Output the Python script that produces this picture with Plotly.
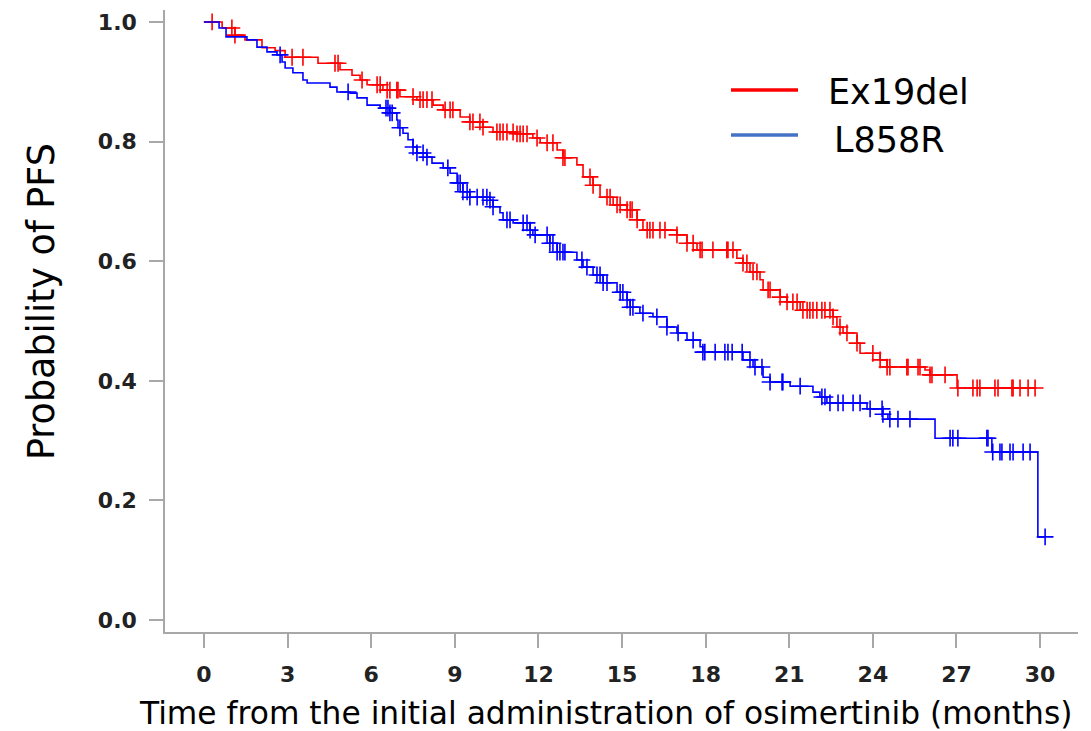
import numpy as np
import plotly.graph_objects as go

# ---- Data ----
# Ex19del: step times (months) and survival after each step
ex19_time = [0, 0.65, 1.11, 1.47, 2.08, 2.55, 2.91, 4.09, 4.88, 5.31, 5.60, 5.85,
             6.42, 7.03, 7.64, 8.22, 8.58, 9.19, 9.54, 10.01, 10.37, 11.23, 11.80,
             12.06, 12.67, 12.88, 13.38, 13.60, 13.96, 14.21, 14.68, 15.18, 15.54,
             15.75, 16.97, 17.33, 17.69, 19.12, 19.34, 19.59, 19.95, 20.06, 20.67,
             20.92, 21.39, 22.57, 22.71, 22.93, 23.43, 23.54, 24.26, 24.51, 25.87,
             26.05, 27.02]
ex19_surv = [1.000, 0.990, 0.978, 0.970, 0.957, 0.952, 0.941, 0.931, 0.920, 0.911,
             0.903, 0.895, 0.886, 0.875, 0.870, 0.861, 0.853, 0.841, 0.833, 0.824,
             0.816, 0.813, 0.806, 0.798, 0.786, 0.773, 0.761, 0.741, 0.727, 0.707,
             0.694, 0.686, 0.669, 0.652, 0.644, 0.630, 0.619, 0.605, 0.597, 0.582,
             0.569, 0.552, 0.540, 0.532, 0.518, 0.507, 0.490, 0.480, 0.463, 0.446,
             0.435, 0.423, 0.418, 0.410, 0.388]
ex19_censor = [0.29, 1.00, 1.11, 3.16, 3.55, 4.70, 4.81, 5.67, 6.21, 6.32, 6.57, 6.67,
               6.92, 6.96, 7.50, 7.75, 7.86, 8.00, 8.18, 8.65, 8.83, 8.93, 9.54, 9.65,
               9.90, 10.01, 10.51, 10.62, 10.73, 10.87, 11.09, 11.23, 11.34, 11.45,
               11.59, 11.95, 12.31, 12.52, 12.88, 12.95, 13.85, 13.96, 14.46, 14.57,
               14.82, 14.93, 15.18, 15.29, 15.36, 15.54, 15.90, 16.00, 16.11, 16.36,
               16.54, 16.97, 17.33, 17.55, 17.80, 17.87, 18.26, 18.76, 18.80, 18.98,
               19.34, 19.48, 19.70, 19.84, 20.24, 20.31, 20.67, 20.92, 21.13, 21.28,
               21.49, 21.64, 21.74, 21.85, 21.99, 22.17, 22.28, 22.46, 22.57, 22.82,
               23.07, 23.43, 24.00, 24.26, 24.51, 24.61, 25.22, 25.26, 25.62, 25.69,
               26.05, 26.12, 26.59, 27.05, 27.59, 27.74, 27.84, 28.38, 28.49, 28.99,
               29.03, 29.28, 29.57, 29.82]

# L858R
l858_time = [0, 0.54, 0.79, 1.54, 1.90, 2.26, 2.62, 2.80, 2.91, 3.19, 3.55, 3.70,
             4.52, 4.77, 5.24, 5.49, 5.85, 6.32, 6.67, 6.92, 6.96, 7.14, 7.32, 7.50,
             7.64, 8.00, 8.18, 8.58, 8.83, 9.08, 9.29, 9.54, 10.26, 10.37, 10.62,
             10.73, 11.09, 11.70, 11.80, 12.41, 12.67, 13.38, 13.60, 13.96, 14.32,
             14.82, 15.18, 15.29, 15.64, 16.11, 16.61, 16.97, 17.33, 17.80, 17.90,
             19.34, 19.70, 20.06, 20.31, 21.03, 21.85, 22.10, 22.35, 23.79, 24.36,
             24.54, 26.23, 28.27, 29.92]
l858_surv = [1.000, 0.990, 0.975, 0.970, 0.958, 0.950, 0.945, 0.933, 0.923, 0.915,
             0.903, 0.898, 0.891, 0.883, 0.881, 0.873, 0.861, 0.856, 0.848, 0.836,
             0.823, 0.814, 0.803, 0.791, 0.781, 0.774, 0.764, 0.756, 0.747, 0.731,
             0.716, 0.707, 0.702, 0.691, 0.681, 0.669, 0.664, 0.652, 0.644, 0.630,
             0.615, 0.602, 0.590, 0.577, 0.564, 0.548, 0.535, 0.523, 0.513, 0.507,
             0.490, 0.480, 0.468, 0.457, 0.448, 0.435, 0.423, 0.406, 0.398, 0.391,
             0.381, 0.373, 0.363, 0.353, 0.344, 0.336, 0.304, 0.281, 0.139]
l858_censor = [2.73, 5.17, 6.53, 6.60, 6.67, 6.75, 7.03, 7.50, 7.64, 7.86, 8.00, 8.75,
               9.11, 9.19, 9.29, 9.44, 9.54, 9.80, 10.01, 10.15, 10.26, 10.37, 10.87,
               10.98, 11.45, 11.59, 11.70, 11.88, 12.31, 12.41, 12.52, 12.67, 12.77,
               12.88, 12.95, 13.56, 13.74, 14.10, 14.21, 14.32, 14.46, 14.93, 15.03,
               15.18, 15.29, 15.39, 15.75, 16.25, 16.61, 17.01, 17.55, 17.90, 17.97,
               18.34, 18.69, 18.80, 18.95, 19.31, 19.59, 19.77, 20.02, 20.31, 20.74,
               20.77, 21.39, 22.17, 22.28, 22.46, 22.75, 22.93, 23.29, 23.54, 23.90,
               24.33, 24.36, 24.61, 24.90, 25.33, 26.77, 26.87, 27.05, 28.09, 28.13,
               28.30, 28.56, 28.63, 28.92, 29.03, 29.39, 29.64, 30.18]

x_ticks = [0, 3, 6, 9, 12, 15, 18, 21, 24, 27, 30]
y_ticks = [0.0, 0.2, 0.4, 0.6, 0.8, 1.0]

x_title = "Time from the initial administration of osimertinib (months)"
y_title = "Probability of PFS"

groups = [
    ("Ex19del", ex19_time, ex19_surv, ex19_censor, "#FF0000", "#FF0000"),
    ("L858R", l858_time, l858_surv, l858_censor, "#0000FF", "#4472C4"),
]


def surv_at(times, surv, t):
    idx = np.searchsorted(np.array(times), t, side="right") - 1
    return np.array(surv)[idx]


fig = go.Figure()
for name, tt, ss, cc, col, _ in groups:
    end = max(cc[-1], tt[-1])
    fig.add_trace(go.Scatter(
        x=list(tt) + [end], y=list(ss) + [ss[-1]],
        mode="lines", line=dict(color=col, width=1.6, shape="hv"),
        name=name, showlegend=False, hoverinfo="skip"))
    fig.add_trace(go.Scatter(
        x=cc, y=surv_at(tt, ss, np.array(cc)),
        mode="markers",
        marker=dict(symbol="cross-thin", size=12, color=col,
                    line=dict(color=col, width=1.6)),
        showlegend=False, hoverinfo="skip"))

# Plot-area box in page pixels
L, R, T, B = 165, 1078, 10, 632
def px(x):
    return (x - L) / (R - L)
def py(y):
    return (B - y) / (B - T)

# Legend drawn as in the reference (line samples + text)
legend_rows = [(90, 92, 826), (135, 140, 832)]
for (name, *_rest), (ly, ty, tx) in zip(groups, legend_rows):
    lcol = _rest[-1]
    fig.add_shape(type="line", xref="paper", yref="paper",
                  x0=px(731), x1=px(798), y0=py(ly), y1=py(ly),
                  line=dict(color=lcol, width=3.5))
    fig.add_annotation(xref="paper", yref="paper", x=px(tx), y=py(ty),
                       text=name, showarrow=False, xanchor="left", yanchor="middle",
                       font=dict(family="DejaVu Sans", size=35, color="#000000"))

# Axis titles
fig.add_annotation(xref="paper", yref="paper", x=px(605), y=py(713),
                   text=x_title, showarrow=False, xanchor="center", yanchor="middle",
                   font=dict(family="DejaVu Sans", size=31.3, color="#000000"))
fig.add_annotation(xref="paper", yref="paper", x=px(41), y=py(302),
                   text=y_title, showarrow=False, xanchor="center", yanchor="middle",
                   textangle=-90,
                   font=dict(family="DejaVu Sans", size=36.5, color="#000000"))

axis_col = "#a8a8a8"
fig.update_layout(
    width=1091, height=731,
    margin=dict(l=L, r=1091 - R, t=T, b=731 - B),
    paper_bgcolor="white", plot_bgcolor="white",
    font=dict(family="DejaVu Sans", color="#000000"),
    xaxis=dict(
        range=[-1.40, 31.36], tickvals=x_ticks, ticktext=[str(v) for v in x_ticks],
        showgrid=False, zeroline=False, showline=True, linecolor=axis_col, linewidth=1.5,
        ticks="outside", ticklen=14, tickwidth=1.5, tickcolor=axis_col,
        tickfont=dict(family="DejaVu Sans", size=22, color="#222222", weight="bold"),
        ticklabelstandoff=8, automargin=False,
    ),
    yaxis=dict(
        range=[-0.02, 1.02], tickvals=y_ticks, ticktext=[f"{v:.1f}" for v in y_ticks],
        showgrid=False, zeroline=False, showline=True, linecolor=axis_col, linewidth=1.5,
        ticks="outside", ticklen=14, tickwidth=1.5, tickcolor=axis_col,
        tickfont=dict(family="DejaVu Sans", size=22, color="#222222", weight="bold"),
        ticklabelstandoff=8, automargin=False,
    ),
)

fig.write_html("out.html", config={"displayModeBar": False},
               post_script="document.body.style.margin='0';document.body.style.overflow='hidden';")
